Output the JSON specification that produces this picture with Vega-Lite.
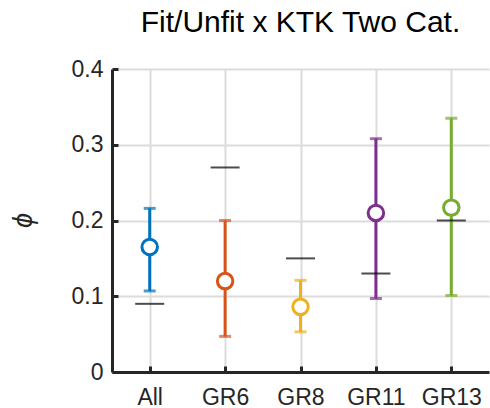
{
  "$schema": "https://vega.github.io/schema/vega-lite/v6.json",
  "width": 377,
  "height": 303,
  "autosize": "none",
  "padding": {"left": 112, "top": 69, "right": 1, "bottom": 36},
  "background": "white",
  "config": {"view": {"stroke": null}, "font": "Liberation Sans"},
  "title": {"text": "Fit/Unfit x KTK Two Cat.", "fontSize": 30, "fontWeight": "normal", "color": "#000000", "anchor": "middle", "offset": 20},
  "data": {"values": [
    {"cat": "All", "est": 0.165, "lo": 0.107, "hi": 0.216, "ref": 0.09},
    {"cat": "GR6", "est": 0.12, "lo": 0.047, "hi": 0.2, "ref": 0.27},
    {"cat": "GR8", "est": 0.086, "lo": 0.053, "hi": 0.121, "ref": 0.15},
    {"cat": "GR11", "est": 0.21, "lo": 0.097, "hi": 0.308, "ref": 0.13},
    {"cat": "GR13", "est": 0.217, "lo": 0.101, "hi": 0.335, "ref": 0.2}
  ]},
  "encoding": {
    "x": {
      "field": "cat", "type": "nominal",
      "sort": ["All", "GR6", "GR8", "GR11", "GR13"],
      "scale": {"type": "point", "padding": 0.5},
      "axis": {
        "title": null, "labelAngle": 0, "labelFontSize": 23, "labelColor": "#262626",
        "labelPadding": 20, "tickSize": -6, "tickWidth": 3, "tickColor": "#262626",
        "domainWidth": 3, "domainColor": "#262626",
        "grid": true, "gridColor": "#dcdcdc", "gridWidth": 2
      }
    }
  },
  "layer": [
    {
      "mark": {"type": "rule", "strokeWidth": 3},
      "encoding": {
        "y": {"field": "lo", "type": "quantitative",
          "scale": {"domain": [0, 0.4], "nice": false},
          "axis": {
            "title": "ϕ", "titleFontStyle": "italic", "titleFontWeight": "normal", "titleFontSize": 27,
            "titleColor": "#262626", "titleX": -89, "titleY": 151, "titleAngle": -90, "titleBaseline": "middle",
            "values": [0, 0.1, 0.2, 0.3, 0.4], "format": ".1~f",
            "labelFontSize": 23, "labelColor": "#262626", "labelPadding": 15,
            "tickSize": -6, "tickWidth": 3, "tickColor": "#262626",
            "domainWidth": 3, "domainColor": "#262626",
            "grid": true, "gridColor": "#dcdcdc", "gridWidth": 2
          }},
        "y2": {"field": "hi"},
        "color": {"field": "cat", "type": "nominal", "sort": ["All", "GR6", "GR8", "GR11", "GR13"],
          "scale": {"range": ["#0072BD", "#D95319", "#EDB120", "#7E2F8E", "#77AC30"]}, "legend": null}
      }
    },
    {
      "mark": {"type": "tick", "orient": "horizontal", "size": 12, "thickness": 3},
      "encoding": {
        "y": {"field": "lo", "type": "quantitative"},
        "color": {"field": "cat", "type": "nominal", "sort": ["All", "GR6", "GR8", "GR11", "GR13"], "legend": null}
      }
    },
    {
      "mark": {"type": "tick", "orient": "horizontal", "size": 12, "thickness": 3},
      "encoding": {
        "y": {"field": "hi", "type": "quantitative"},
        "color": {"field": "cat", "type": "nominal", "sort": ["All", "GR6", "GR8", "GR11", "GR13"], "legend": null}
      }
    },
    {
      "mark": {"type": "tick", "orient": "horizontal", "size": 29, "thickness": 2, "color": "#000000"},
      "encoding": {
        "y": {"field": "ref", "type": "quantitative"}
      }
    },
    {
      "mark": {"type": "point", "shape": "circle", "filled": false, "fill": "white", "fillOpacity": 1, "opacity": 1, "size": 240, "strokeWidth": 3},
      "encoding": {
        "y": {"field": "est", "type": "quantitative"},
        "color": {"field": "cat", "type": "nominal", "sort": ["All", "GR6", "GR8", "GR11", "GR13"], "legend": null}
      }
    }
  ]
}
